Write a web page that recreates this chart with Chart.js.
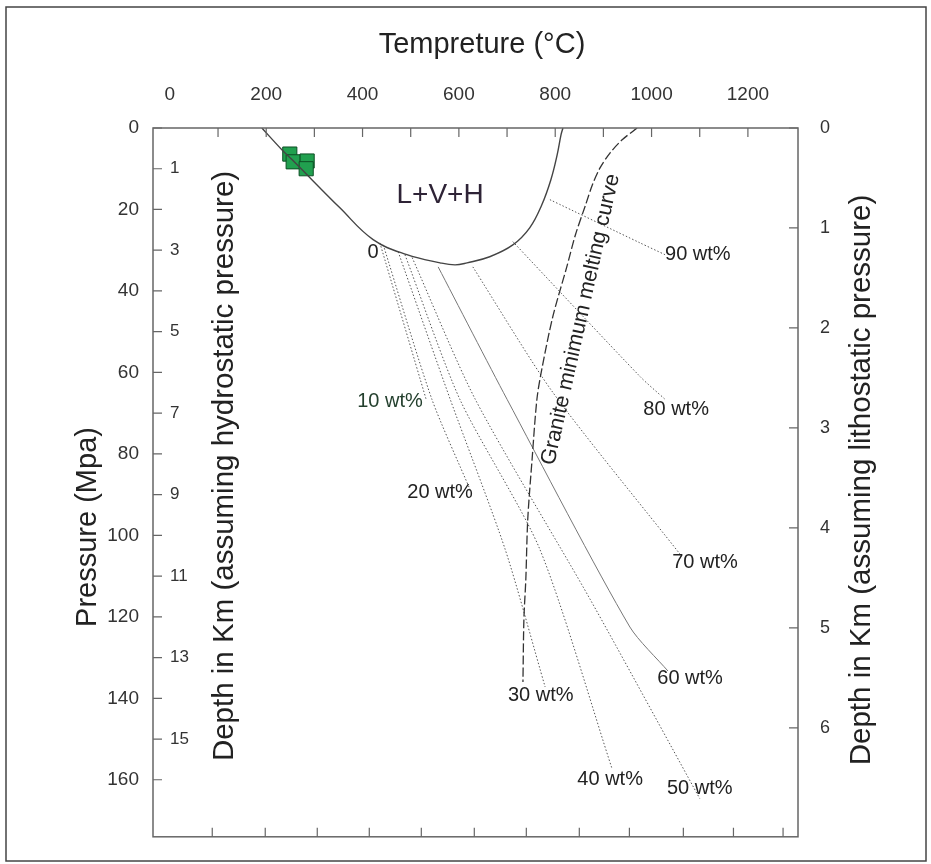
<!DOCTYPE html>
<html>
<head>
<meta charset="utf-8">
<script src="https://cdn.jsdelivr.net/npm/chart.js@4.4.0/dist/chart.umd.min.js"></script>
<style>
  body { margin: 0; background: #fff; }
  #wrap { width: 931px; height: 864px; }
</style>
</head>
<body>
<div id="wrap"><canvas id="chart" width="931" height="864"></canvas></div>
<script>
// readings: temperature in °C, pressure in MPa
const domeT = [191, 233, 254, 353, 422, 492, 561, 592, 617, 664, 712, 747, 772, 791, 804, 812, 816];
const domeP = [0, 5.4, 7.8, 19.6, 27.4, 31.1, 33.1, 33.6, 33.1, 31.6, 28.7, 24.5, 18.9, 12.7, 6.6, 1.7, 0];

const graniteT = [970, 939, 914, 893, 877, 863, 842, 824, 795, 772, 762, 752, 743, 739, 735, 733];
const graniteP = [0, 2.9, 6.1, 9.8, 14.0, 18.9, 26.2, 34.1, 46.3, 59.3, 66.6, 81.3, 96.0, 110.7, 120.5, 136.0];

const sampleT = [249, 256, 285, 283];
const sampleP = [6.4, 8.3, 8.1, 10.0];

// salinity isopleths, 10 ... 90 wt%
const isoT = [
  [436, 532],
  [443, 544, 623],
  [474, 582, 696, 779],
  [488, 602, 768, 918],
  [503, 634, 872, 1100],
  [557, 700, 955, 1034],
  [629, 795, 1059],
  [712, 976, 1028],
  [789, 976, 1028]
];
const isoP = [
  [28.2, 66.6],
  [28.7, 66.6, 88.7],
  [30.4, 66.6, 103.4, 137.2],
  [31.1, 66.6, 103.4, 157.3],
  [31.8, 66.6, 115.6, 164.6],
  [34.1, 66.6, 122.5, 133.3],
  [34.1, 64.9, 104.6],
  [27.9, 61.0, 66.6],
  [17.6, 28.2, 31.1]
];

// text notes placed in data units
const noteText = ['L+V+H', '0', '10 wt%', '20 wt%', '30 wt%', '40 wt%', '50 wt%', '60 wt%', '70 wt%', '80 wt%', '90 wt%'];
const noteT = [561, 422, 457, 561, 770, 914, 1100, 1080, 1111, 1051, 1096];
const noteP = [16.4, 30.6, 67.1, 89.4, 139.4, 160.0, 162.2, 135.2, 106.6, 69.1, 31.1];

// axes
const topLabels = [0, 200, 400, 600, 800, 1000, 1200];
const topTickMarks = [100, 200, 300, 400, 500, 600, 700, 800, 900, 1000, 1100, 1200];
const bottomTickMarks = [88, 198, 306, 414, 522, 632, 740, 850, 954, 1066, 1170, 1273];
const pressureTicks = [0, 20, 40, 60, 80, 100, 120, 140, 160];
const hydroTicks = [1, 3, 5, 7, 9, 11, 13, 15];
const lithoTicks = [0, 1, 2, 3, 4, 5, 6];

const FONT = '"Liberation Sans", Arial, sans-serif';
const pts = (ts, ps) => ts.map((t, i) => ({ x: t, y: ps[i] }));
const plain = v => String(v);

const datasets = [
  {
    label: 'L+V+H',
    data: pts(domeT, domeP),
    showLine: true, pointRadius: 0,
    borderColor: '#444', borderWidth: 1.4, tension: 0.4
  },
  {
    label: 'Granite minimum melting curve',
    data: pts(graniteT, graniteP),
    showLine: true, pointRadius: 0,
    borderColor: '#333', borderWidth: 1.3, borderDash: [9, 3], tension: 0.3
  }
];

isoT.forEach((ts, i) => {
  datasets.push({
    label: (i + 1) * 10 + ' wt%',
    data: pts(ts, isoP[i]),
    showLine: true, pointRadius: 0,
    borderColor: i === 5 ? '#777' : '#555',
    borderWidth: 1,
    borderDash: i === 5 ? [] : [1.5, 2],
    tension: 0.25
  });
});

datasets.push({
  label: 'samples',
  data: pts(sampleT, sampleP),
  pointStyle: 'rect', pointRadius: 10,
  backgroundColor: '#21a04f', borderColor: '#0c4f24', borderWidth: 1
});

function rotText(ctx, text, x, y, angle, font, color) {
  ctx.save();
  ctx.translate(x, y);
  ctx.rotate(angle);
  ctx.font = font;
  ctx.fillStyle = color;
  ctx.textAlign = 'center';
  ctx.textBaseline = 'middle';
  ctx.fillText(text, 0, 0);
  ctx.restore();
}

const decor = {
  id: 'decor',
  afterDraw(chart) {
    const { ctx, chartArea: a } = chart;
    const { x, y, yd, yr } = chart.scales;
    ctx.save();

    // outer figure border
    ctx.strokeStyle = '#444';
    ctx.lineWidth = 1.5;
    ctx.strokeRect(6, 7, 920, 854);

    // plot frame
    ctx.strokeStyle = '#666';
    ctx.lineWidth = 1.5;
    ctx.strokeRect(a.left, a.top, a.right - a.left, a.bottom - a.top);

    // inward tick marks
    ctx.lineWidth = 1.2;
    ctx.beginPath();
    topTickMarks.forEach(v => { const px = x.getPixelForValue(v); ctx.moveTo(px, a.top); ctx.lineTo(px, a.top + 9); });
    bottomTickMarks.forEach(v => { const px = x.getPixelForValue(v); ctx.moveTo(px, a.bottom); ctx.lineTo(px, a.bottom - 9); });
    pressureTicks.forEach(v => { const py = y.getPixelForValue(v); ctx.moveTo(a.left, py); ctx.lineTo(a.left + 9, py); });
    hydroTicks.forEach(v => { const py = yd.getPixelForValue(v); ctx.moveTo(a.left, py); ctx.lineTo(a.left + 9, py); });
    lithoTicks.forEach(v => { const py = yr.getPixelForValue(v); ctx.moveTo(a.right, py); ctx.lineTo(a.right - 9, py); });
    ctx.stroke();

    // titles
    rotText(ctx, 'Tempreture (°C)', 482, 45, 0, '29px ' + FONT, '#222');
    rotText(ctx, 'Pressure (Mpa)', 88, 527, -Math.PI / 2, '29px ' + FONT, '#222');
    rotText(ctx, 'Depth in Km (assuming hydrostatic pressure)', 225, 466, -Math.PI / 2, '29.5px ' + FONT, '#222');
    rotText(ctx, 'Depth in Km (assuming lithostatic pressure)', 862, 480, -Math.PI / 2, '29.5px ' + FONT, '#222');

    // notes inside the plot
    noteText.forEach((t, i) => {
      const px = x.getPixelForValue(noteT[i]);
      const py = y.getPixelForValue(noteP[i]);
      const big = t === 'L+V+H';
      rotText(ctx, t, px, py, 0, (big ? '28px ' : '20px ') + FONT, big ? '#2e2336' : (t === '10 wt%' ? '#24402e' : '#222'));
    });
    rotText(ctx, 'Granite minimum melting curve', x.getPixelForValue(853), y.getPixelForValue(47), -1.35, '21.5px ' + FONT, '#222');

    ctx.restore();
  }
};

new Chart(document.getElementById('chart'), {
  type: 'scatter',
  data: { datasets },
  options: {
    responsive: false,
    animation: false,
    layout: { padding: { left: 0, right: 0, top: 0, bottom: 26 } },
    plugins: { legend: { display: false }, tooltip: { enabled: false } },
    scales: {
      x: {
        type: 'linear', position: 'top', min: -35, max: 1304,
        grid: { display: false }, border: { display: false },
        afterBuildTicks: s => { s.ticks = topLabels.map(v => ({ value: v })); },
        afterFit: s => { s.height = 128; },
        ticks: { font: { size: 19, family: FONT }, color: '#333', padding: 14, maxRotation: 0, callback: plain }
      },
      y: {
        type: 'linear', position: 'left', reverse: true, min: 0, max: 174, weight: 2,
        grid: { display: false }, border: { display: false },
        afterBuildTicks: s => { s.ticks = pressureTicks.map(v => ({ value: v })); },
        afterFit: s => { s.width = 153; },
        ticks: { font: { size: 19, family: FONT }, color: '#333', padding: 6, callback: plain }
      },
      yd: {
        type: 'linear', position: 'left', reverse: true, min: 0, max: 17.4, weight: 0,
        grid: { display: false }, border: { display: false },
        afterBuildTicks: s => { s.ticks = hydroTicks.map(v => ({ value: v })); },
        afterFit: s => { s.width = 0; },
        ticks: { mirror: true, font: { size: 17, family: FONT }, color: '#333', padding: 17, callback: plain }
      },
      yr: {
        type: 'linear', position: 'right', reverse: true, min: 0, max: 7.09,
        grid: { display: false }, border: { display: false },
        afterBuildTicks: s => { s.ticks = lithoTicks.map(v => ({ value: v })); },
        afterFit: s => { s.width = 133; },
        ticks: { font: { size: 18, family: FONT }, color: '#333', padding: 14, callback: plain }
      }
    }
  },
  plugins: [decor]
});
</script>
</body>
</html>
